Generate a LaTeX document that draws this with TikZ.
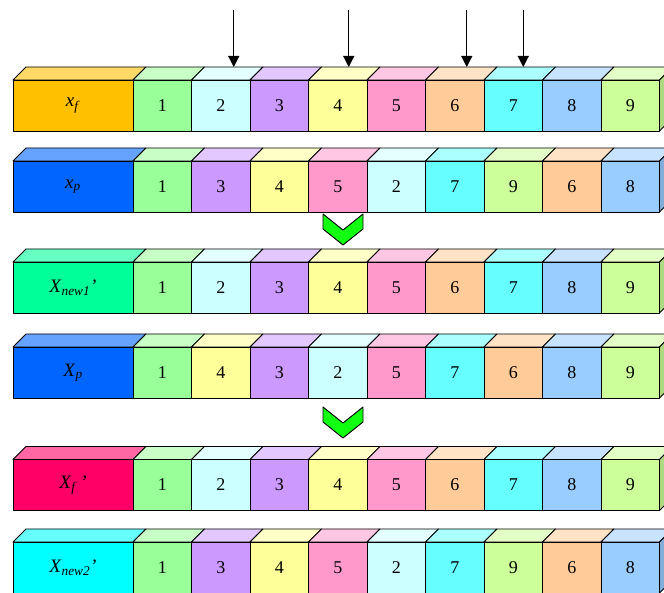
\documentclass[tikz,border=0pt]{standalone}
\usepackage{fontspec}
\setmainfont{Liberation Serif}
\usetikzlibrary{positioning,arrows.meta}

\definecolor{c1}{HTML}{99FF99}
\definecolor{c2}{HTML}{CCFFFF}
\definecolor{c3}{HTML}{CC99FF}
\definecolor{c4}{HTML}{FFFF99}
\definecolor{c5}{HTML}{FF99CC}
\definecolor{c6}{HTML}{FFCC99}
\definecolor{c7}{HTML}{66FFFF}
\definecolor{c8}{HTML}{99CCFF}
\definecolor{c9}{HTML}{CCFF99}
\definecolor{lf}{HTML}{FFC000}
\definecolor{lp}{HTML}{0066FF}
\definecolor{ln}{HTML}{00FF99}
\definecolor{lr}{HTML}{FF0066}
\definecolor{lc}{HTML}{00FFFF}
\definecolor{chgreen}{HTML}{11FF11}

\begin{document}
\begin{tikzpicture}[x=1pt,y=1pt,
    face/.style={draw,line width=0.9pt,line join=round},
    cell/.style={face,rectangle,minimum width=58.5pt,minimum height=51pt,inner sep=0pt,outer sep=0pt,font=\fontsize{18}{21}\selectfont},
    tag/.style={cell,minimum width=120pt,font=\fontsize{19}{22}\selectfont},
    arr/.style={-{Triangle[length=11pt,width=11pt]},line width=1.2pt},
    chev/.style={face,fill=chgreen}]
  \useasboundingbox (0,0) rectangle (664,593);
  \clip (0,0) rectangle (664,593);
  % six rows of cubes: label box, then nine numbered cells
  \foreach \r/\y/\col/\lab/\seq in {
      1/487.5/lf/{\textit{x}\textsubscript{\textit{f}}}/{1,2,3,4,5,6,7,8,9},
      2/406.5/lp/{\textit{x}\textsubscript{\textit{p}}}/{1,3,4,5,2,7,9,6,8},
      3/305.5/ln/{\textit{X}\textsubscript{\textit{new1}}\textit{'}}/{1,2,3,4,5,6,7,8,9},
      4/220.5/lp/{\textit{X}\textsubscript{\textit{p}}}/{1,4,3,2,5,7,6,8,9},
      5/108/lr/{\textit{X}\textsubscript{\textit{f}}\,\textit{'}}/{1,2,3,4,5,6,7,8,9},
      6/25.5/lc/{\textit{X}\textsubscript{\textit{new2}}\textit{'}}/{1,3,4,5,2,7,9,6,8}}{
    \node[tag,fill=\col] (r\r-c0) at (73,\y) {\lab};
    \draw[face,fill=\col!60!white] (r\r-c0.north west) -- ++(13,13)
      -- ([shift={(13,13)}]r\r-c0.north east) -- (r\r-c0.north east) -- cycle;
    \foreach \v [count=\i, remember=\i as \j (initially 0)] in \seq {
      \node[cell,fill=c\v,right=0pt of r\r-c\j] (r\r-c\i) {\v};
      \draw[face,fill=c\v!55!white] (r\r-c\i.north west) -- ++(13,13)
        -- ([shift={(13,13)}]r\r-c\i.north east) -- (r\r-c\i.north east) -- cycle;
      \ifnum\i=9
        \draw[face,fill=c\v!85!black] (r\r-c\i.north east) -- ++(13,13)
          -- ++(0,-51) -- (r\r-c\i.south east) -- cycle;
      \fi
    }
  }
  % pointers into the first row
  \foreach \k/\dx in {2/13,4/11,6/12,7/10} {
    \coordinate (s\k) at ([shift={(\dx,70)}]r1-c\k.north);
    \draw[arr] (s\k) -- ([shift={(\dx,13)}]r1-c\k.north);
  }
  % green chevrons
  \coordinate (v1) at (343,379);
  \coordinate (v2) at (343,186);
  \foreach \k in {1,2}
    \draw[chev] (v\k) ++(-20,0) -- ++(20,-16) -- ++(20,16) -- ++(0,-15)
      -- ++(-20,-16) -- ++(-20,16) -- cycle;
\end{tikzpicture}
\end{document}
